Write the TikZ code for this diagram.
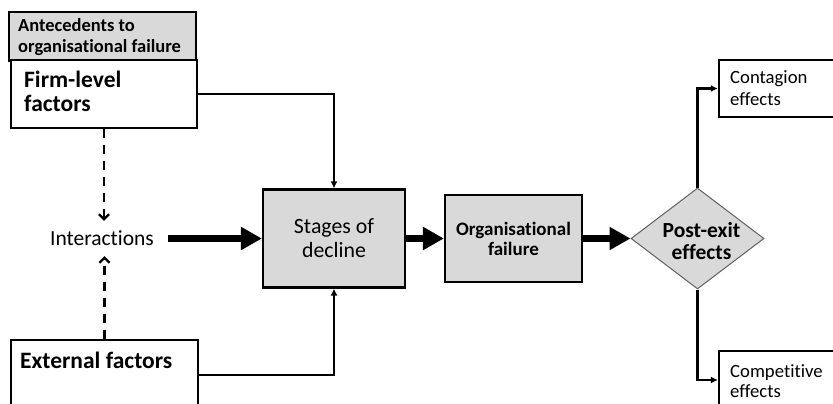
\documentclass[tikz,border=0pt]{standalone}
\usepackage{fontspec}
\setmainfont{Carlito}[Ligatures=NoCommon]
\usetikzlibrary{arrows.meta,shapes.geometric,calc}
\definecolor{boxgray}{HTML}{D9D9D9}
\definecolor{diagray}{HTML}{606060}
\newcommand{\twoline}[2]{\begin{tabular}[t]{@{}l@{}}#1\\#2\end{tabular}}
\begin{document}
\begin{tikzpicture}[x=1pt,y=-1pt,
  box/.style={draw=black,line width=2.2pt,fill=white,inner sep=0pt},
  graybox/.style={box,fill=boxgray},
  lbl/.style={anchor=base west,inner sep=0pt},
  thinarrow/.style={line width=2.2pt,-{Latex[length=7pt,width=7pt]}},
  dasharrow/.style={line width=2.2pt,dash pattern=on 9pt off 7pt,-{Straight Barb[length=5pt,width=10pt]}},
  bigarrow/.style={line width=7pt,-{Triangle[length=21pt,width=22pt]}},
]
\fill[white] (0,0) rectangle (833,404);
\useasboundingbox (0,0) rectangle (833,404);
\clip (0,0) rectangle (833,404);

% left column
\node[graybox, minimum width=187pt, minimum height=49pt] (ante) at (102.5,36.5) {};
\node[lbl, font=\fontsize{18.5}{21}\selectfont\bfseries] (antetext) at (18,32) {\twoline{Antecedents to}{organisational failure}};
\node[box, minimum width=186pt, minimum height=68pt] (firm) at (104,94) {};
\node[lbl, font=\fontsize{23.5}{24}\selectfont\bfseries] (firmtext) at (24,88) {\twoline{Firm-level}{factors}};
\node[box, minimum width=187pt, minimum height=70pt] (ext) at (104.5,375) {};
\node[lbl, font=\fontsize{23.5}{24}\selectfont\bfseries] (exttext) at (20,368) {External factors};
\node[minimum height=35pt, inner xsep=14pt, inner ysep=0pt,
  font=\fontsize{21.5}{24}\selectfont] (inter) at (102,238.5) {Interactions};

% middle
\node[graybox, minimum width=142pt, minimum height=98pt, align=center,
  font=\fontsize{21.8}{24}\selectfont] (stages) at (334,238.5) {Stages of\\decline};
\node[graybox, minimum width=137pt, minimum height=87pt, align=center,
  font=\fontsize{19}{20}\selectfont\bfseries] (org) at (513.5,238.5) {Organisational\\failure};

% right
\node[diamond, draw=diagray, line width=1pt, fill=boxgray, inner sep=0pt,
  minimum width=133pt, minimum height=101pt] (pe) at (697.5,238.5) {};
\node[align=center, inner sep=0pt, font=\fontsize{21.5}{22}\selectfont\bfseries] (petext) at (701.5,241) {Post-exit\\effects};
\node[box, minimum width=124pt, minimum height=57pt] (cont) at (781,88.5) {};
\node[lbl, font=\fontsize{18.7}{21}\selectfont] (conttext) at (730,84) {\twoline{Contagion}{effects}};
\node[box, minimum width=124pt, minimum height=58pt] (comp) at (781,380) {};
\node[lbl, font=\fontsize{18.7}{20}\selectfont] (comptext) at (730,377) {\twoline{Competitive}{effects}};

% connectors
\draw[thinarrow] (firm.east) -| (stages.north);
\draw[thinarrow] (ext.east) -| (stages.south);
\draw[dasharrow] (firm.south) -- (firm.south |- inter.north);
\draw[dasharrow] (ext.north) -- (ext.north |- inter.south);
\draw[bigarrow] (inter.east) -- (stages.west);
\draw[bigarrow] (stages.east) -- (org.west);
\draw[bigarrow] (org.east) -- (pe.west);
\draw[thinarrow] (pe.north) |- (cont.west);
\draw[thinarrow] (pe.south) |- (comp.west);
\end{tikzpicture}
\end{document}
